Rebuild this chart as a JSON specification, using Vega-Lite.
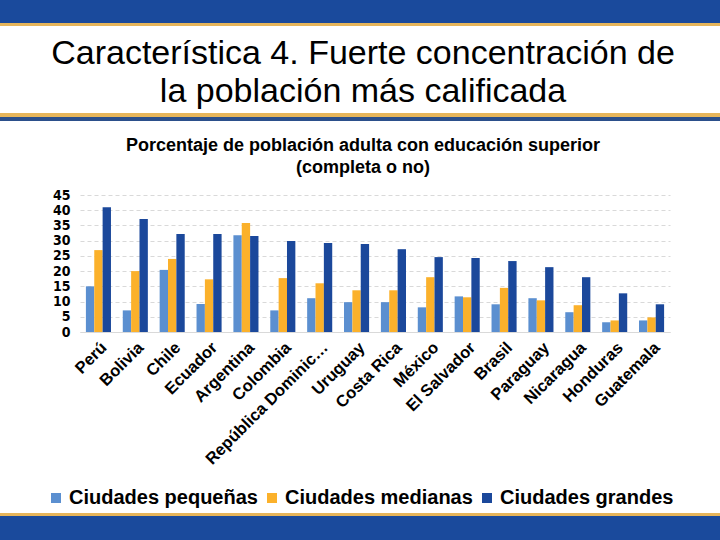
{
  "$schema": "https://vega.github.io/schema/vega-lite/v6.json",
  "padding": 0,
  "background": "white",
  "spacing": 0,
  "bounds": "flush",
  "config": {
    "view": {"stroke": null},
    "concat": {"spacing": 0},
    "font": "Liberation Sans"
  },
  "resolve": {"scale": {"color": "independent"}, "legend": {"color": "independent"}},
  "vconcat": [
    {"width": 720, "height": 23, "data": {"values": []}, "mark": "point", "view": {"fill": "#1a4a9c", "stroke": null}},
    {"width": 720, "height": 3, "data": {"values": []}, "mark": "point", "view": {"fill": "#e6b55a", "stroke": null}},
    {"width": 720, "height": 87, "data": {"values": []}, "mark": "point"},
    {"width": 720, "height": 4, "data": {"values": []}, "mark": "point", "view": {"fill": "#e6b55a", "stroke": null}},
    {"width": 720, "height": 4, "data": {"values": []}, "mark": "point", "view": {"fill": "#2b4f8b", "stroke": null}},
    {"width": 720, "height": 74, "data": {"values": []}, "mark": "point"},
    {
      "spacing": 0,
      "bounds": "flush",
      "resolve": {"scale": {"color": "independent"}, "legend": {"color": "independent"}},
      "hconcat": [
        {"width": 80, "height": 137, "data": {"values": []}, "mark": "point"},
        {
          "width": 590,
          "height": 137,
          "title": {
            "text": ["Característica 4. Fuerte concentración de", "la población más calificada"],
            "subtitle": ["Porcentaje de población adulta con educación superior", "(completa o no)"],
            "font": "Liberation Sans",
            "fontSize": 34,
            "fontWeight": "normal",
            "lineHeight": 38,
            "color": "black",
            "subtitleFont": "Liberation Sans",
            "subtitleFontSize": 18,
            "subtitleFontWeight": "bold",
            "subtitleLineHeight": 22,
            "subtitleColor": "black",
            "subtitlePadding": 28,
            "anchor": "middle",
            "frame": "group",
            "offset": 11,
            "dx": -12
          },
          "data": {
            "values": [
              {"pais": "Perú", "tipo": "Ciudades pequeñas", "valor": 15.0},
              {"pais": "Perú", "tipo": "Ciudades medianas", "valor": 26.9},
              {"pais": "Perú", "tipo": "Ciudades grandes", "valor": 41.0},
              {"pais": "Bolivia", "tipo": "Ciudades pequeñas", "valor": 7.1},
              {"pais": "Bolivia", "tipo": "Ciudades medianas", "valor": 20.0},
              {"pais": "Bolivia", "tipo": "Ciudades grandes", "valor": 37.1},
              {"pais": "Chile", "tipo": "Ciudades pequeñas", "valor": 20.4},
              {"pais": "Chile", "tipo": "Ciudades medianas", "valor": 24.0},
              {"pais": "Chile", "tipo": "Ciudades grandes", "valor": 32.2},
              {"pais": "Ecuador", "tipo": "Ciudades pequeñas", "valor": 9.2},
              {"pais": "Ecuador", "tipo": "Ciudades medianas", "valor": 17.3},
              {"pais": "Ecuador", "tipo": "Ciudades grandes", "valor": 32.2},
              {"pais": "Argentina", "tipo": "Ciudades pequeñas", "valor": 31.8},
              {"pais": "Argentina", "tipo": "Ciudades medianas", "valor": 35.8},
              {"pais": "Argentina", "tipo": "Ciudades grandes", "valor": 31.5},
              {"pais": "Colombia", "tipo": "Ciudades pequeñas", "valor": 7.1},
              {"pais": "Colombia", "tipo": "Ciudades medianas", "valor": 17.7},
              {"pais": "Colombia", "tipo": "Ciudades grandes", "valor": 29.9},
              {"pais": "República Dominicana", "tipo": "Ciudades pequeñas", "valor": 11.1},
              {"pais": "República Dominicana", "tipo": "Ciudades medianas", "valor": 16.0},
              {"pais": "República Dominicana", "tipo": "Ciudades grandes", "valor": 29.2},
              {"pais": "Uruguay", "tipo": "Ciudades pequeñas", "valor": 9.8},
              {"pais": "Uruguay", "tipo": "Ciudades medianas", "valor": 13.7},
              {"pais": "Uruguay", "tipo": "Ciudades grandes", "valor": 28.9},
              {"pais": "Costa Rica", "tipo": "Ciudades pequeñas", "valor": 9.8},
              {"pais": "Costa Rica", "tipo": "Ciudades medianas", "valor": 13.7},
              {"pais": "Costa Rica", "tipo": "Ciudades grandes", "valor": 27.2},
              {"pais": "México", "tipo": "Ciudades pequeñas", "valor": 8.1},
              {"pais": "México", "tipo": "Ciudades medianas", "valor": 18.0},
              {"pais": "México", "tipo": "Ciudades grandes", "valor": 24.6},
              {"pais": "El Salvador", "tipo": "Ciudades pequeñas", "valor": 11.7},
              {"pais": "El Salvador", "tipo": "Ciudades medianas", "valor": 11.4},
              {"pais": "El Salvador", "tipo": "Ciudades grandes", "valor": 24.3},
              {"pais": "Brasil", "tipo": "Ciudades pequeñas", "valor": 9.1},
              {"pais": "Brasil", "tipo": "Ciudades medianas", "valor": 14.5},
              {"pais": "Brasil", "tipo": "Ciudades grandes", "valor": 23.3},
              {"pais": "Paraguay", "tipo": "Ciudades pequeñas", "valor": 11.1},
              {"pais": "Paraguay", "tipo": "Ciudades medianas", "valor": 10.4},
              {"pais": "Paraguay", "tipo": "Ciudades grandes", "valor": 21.3},
              {"pais": "Nicaragua", "tipo": "Ciudades pequeñas", "valor": 6.5},
              {"pais": "Nicaragua", "tipo": "Ciudades medianas", "valor": 8.8},
              {"pais": "Nicaragua", "tipo": "Ciudades grandes", "valor": 18.0},
              {"pais": "Honduras", "tipo": "Ciudades pequeñas", "valor": 3.2},
              {"pais": "Honduras", "tipo": "Ciudades medianas", "valor": 3.8},
              {"pais": "Honduras", "tipo": "Ciudades grandes", "valor": 12.7},
              {"pais": "Guatemala", "tipo": "Ciudades pequeñas", "valor": 3.8},
              {"pais": "Guatemala", "tipo": "Ciudades medianas", "valor": 4.8},
              {"pais": "Guatemala", "tipo": "Ciudades grandes", "valor": 9.1}
            ]
          },
          "mark": {"type": "bar"},
          "encoding": {
            "x": {
              "field": "pais",
              "type": "nominal",
              "sort": null,
              "scale": {"paddingInner": 0.32, "paddingOuter": 0.16},
              "axis": {
                "title": null,
                "labelAngle": -45,
                "labelFont": "Liberation Sans",
                "labelFontSize": 16.5,
                "labelFontWeight": "bold",
                "labelColor": "black",
                "labelLimit": 172,
                "labelPadding": 7,
                "labelOverlap": false,
                "ticks": false,
                "domainColor": "#d9d9d9",
                "domainWidth": 1
              }
            },
            "xOffset": {
              "field": "tipo",
              "type": "nominal",
              "sort": ["Ciudades pequeñas", "Ciudades medianas", "Ciudades grandes"]
            },
            "y": {
              "field": "valor",
              "type": "quantitative",
              "scale": {"domain": [0, 45], "nice": false},
              "axis": {
                "title": null,
                "values": [0, 5, 10, 15, 20, 25, 30, 35, 40, 45],
                "labelFont": "DejaVu Sans Condensed",
                "labelFontSize": 14,
                "labelFontWeight": "bold",
                "labelColor": "black",
                "labelPadding": 10,
                "labelOverlap": false,
                "labelBound": false,
                "ticks": false,
                "domain": false,
                "gridColor": "#d9d9d9",
                "gridDash": [4, 3],
                "gridWidth": 1
              }
            },
            "color": {
              "field": "tipo",
              "type": "nominal",
              "sort": ["Ciudades pequeñas", "Ciudades medianas", "Ciudades grandes"],
              "scale": {
                "domain": ["Ciudades pequeñas", "Ciudades medianas", "Ciudades grandes"],
                "range": ["#5b8fd0", "#fbb12b", "#1b489b"]
              },
              "legend": {
                "title": null,
                "orient": "none",
                "legendX": -34,
                "legendY": 293,
                "direction": "horizontal",
                "symbolType": "square",
                "symbolSize": 100,
                "symbolStrokeWidth": 0,
                "labelFont": "Liberation Sans",
                "labelFontSize": 20,
                "labelFontWeight": "bold",
                "labelColor": "black",
                "labelOffset": 3,
                "columnPadding": 4,
                "labelLimit": 300
              }
            }
          }
        }
      ]
    },
    {"width": 720, "height": 318, "data": {"values": []}, "mark": "point"},
    {"width": 720, "height": 3, "data": {"values": []}, "mark": "point", "view": {"fill": "#e6b55a", "stroke": null}},
    {"width": 720, "height": 24, "data": {"values": []}, "mark": "point", "view": {"fill": "#1a4a9c", "stroke": null}}
  ]
}
